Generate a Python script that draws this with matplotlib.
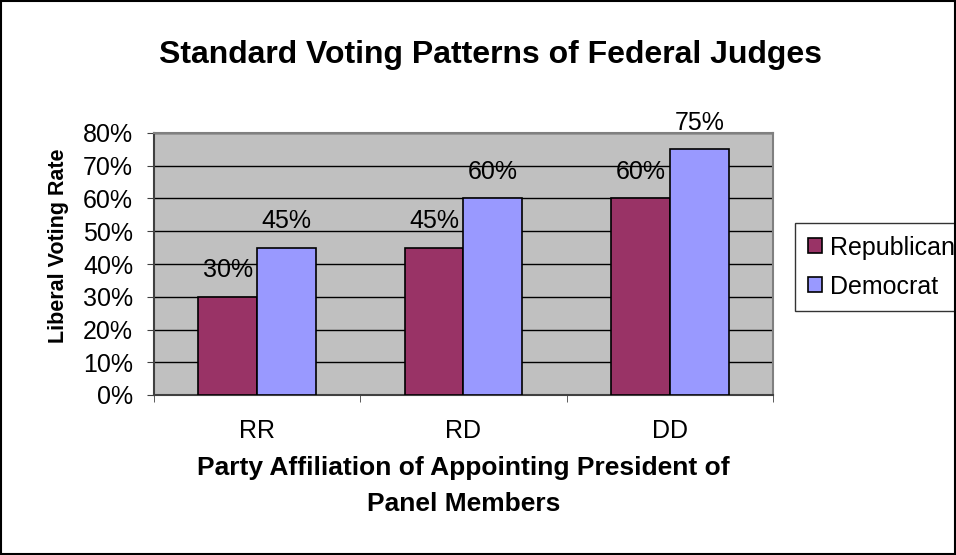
import matplotlib.pyplot as plt
import numpy as np
from matplotlib.patches import Rectangle

plt.rcParams['font.family'] = ['Liberation Sans', 'DejaVu Sans']

categories = ['RR', 'RD', 'DD']
republican = [30, 45, 60]
democrat = [45, 60, 75]
series_names = ['Republican', 'Democrat']
colors = ['#993366', '#9999FF']

fs = 18

fig = plt.figure(figsize=(9.56, 5.55), dpi=100)
ax = fig.add_axes([154/956, 1 - 395/555, (773 - 154)/956, (395 - 133)/555])
ax.set_facecolor('#C0C0C0')

ind = np.arange(len(categories))
width = 1 / 3.5
b1 = ax.bar(ind - width/2, republican, width, color=colors[0], edgecolor='black',
            linewidth=1.2, label=series_names[0], zorder=3)
b2 = ax.bar(ind + width/2, democrat, width, color=colors[1], edgecolor='black',
            linewidth=1.2, label=series_names[1], zorder=3)

for bars, vals in ((b1, republican), (b2, democrat)):
    for b, v in zip(bars, vals):
        ax.annotate('%d%%' % v, (b.get_x() + b.get_width()/2, v),
                    xytext=(0, 10.5), textcoords='offset points',
                    ha='center', va='bottom', fontsize=fs, zorder=4)

ax.set_xlim(-0.5, 2.5)
ax.set_ylim(0, 80)
ax.set_yticks(np.arange(0, 81, 10))
ax.set_yticklabels(['%d%%' % t for t in range(0, 81, 10)], fontsize=fs)
ax.set_xticks(ind)
ax.set_xticklabels(categories, fontsize=fs)
ax.set_xticks([-0.5, 0.5, 1.5, 2.5], minor=True)
ax.tick_params(axis='x', which='major', length=0, pad=17)
ax.tick_params(axis='x', which='minor', length=5, direction='out', color='#404040')
ax.tick_params(axis='y', length=5, direction='out', color='#404040', pad=10)
ax.yaxis.grid(True, color='black', linewidth=1, zorder=1)
ax.set_axisbelow(True)

for s in ('top', 'right'):
    ax.spines[s].set_color('#808080')
for s in ('left', 'bottom'):
    ax.spines[s].set_color('#404040')
for s in ax.spines.values():
    s.set_linewidth(1.5)

ax.set_ylabel('Liberal Voting Rate', fontsize=15.5, fontweight='bold')
ax.yaxis.set_label_coords(-0.138, 0.57)
ax.set_xlabel('Party Affiliation of Appointing President of\nPanel Members',
              fontsize=19, fontweight='bold', labelpad=10, linespacing=1.6)

fig.text(491/956, 1 - 55/555, 'Standard Voting Patterns of Federal Judges',
         ha='center', va='center', fontsize=23, fontweight='bold')

leg = ax.legend(loc='upper left', bbox_to_anchor=(795/956, 1 - 223/555),
                bbox_transform=fig.transFigure, fontsize=fs, frameon=True,
                fancybox=False, edgecolor='black', borderpad=0.5,
                handlelength=0.56, handleheight=0.56, handletextpad=0.36,
                labelspacing=0.6, borderaxespad=0)
leg.get_frame().set_linewidth(1)

fig.patches.append(Rectangle((0.001, 0.002), 0.998, 0.996, transform=fig.transFigure,
                             fill=False, edgecolor='black', linewidth=1.5))

fig.savefig('out.png', dpi=100)
